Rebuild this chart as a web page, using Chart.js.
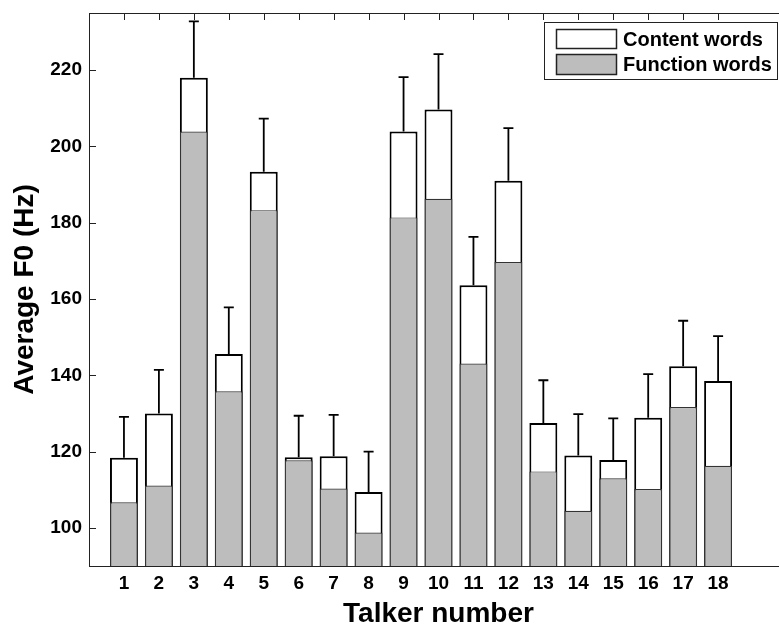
<!DOCTYPE html>
<html>
<head>
<meta charset="utf-8">
<script src="https://cdn.jsdelivr.net/npm/chart.js@4/dist/chart.umd.min.js"></script>
<style>
  html, body { margin: 0; padding: 0; background: #fff; }
  #wrap { width: 779px; height: 625px; overflow: hidden; position: relative; }
  #f0-chart { display: block; }
</style>
</head>
<body>
<div id="wrap"><canvas id="f0-chart" width="800" height="625"></canvas></div>
<script>
var talkers = [1, 2, 3, 4, 5, 6, 7, 8, 9, 10, 11, 12, 13, 14, 15, 16, 17, 18];
var contentWords = [118.4, 130.0, 218.0, 145.6, 193.4, 118.5, 118.8, 109.4, 203.9, 209.7, 163.6, 191.0, 127.5, 119.0, 117.8, 128.9, 142.4, 138.5];
var functionWords = [106.7, 111.1, 203.9, 135.8, 183.3, 117.7, 110.3, 98.8, 181.4, 186.3, 143.1, 169.7, 114.8, 104.5, 113.0, 110.2, 131.7, 116.3];
var contentErr = [10.7, 11.4, 14.8, 12.2, 13.9, 10.9, 10.8, 10.6, 14.3, 14.5, 12.7, 13.8, 11.2, 10.8, 10.9, 11.4, 11.9, 11.8];
var yTicks = [100, 120, 140, 160, 180, 200, 220];
var seriesNames = ["Content words", "Function words"];

!(function () {
  "use strict";
  var GRAY = "#bdbdbd",
    FONT = '"Liberation Sans", Arial, Helvetica, sans-serif';

  function pts(vals) {
    return talkers.map(function (t, i) {
      return { x: t, y: vals[i] };
    });
  }

  function noPad(s) {
    s.paddingTop = 0;
    s.paddingBottom = 0;
    s.paddingLeft = 0;
    s.paddingRight = 0;
  }

  // matlab style box: top line, inward ticks, error bars, legend
  var matlabBox = {
    id: "matlabBox",
    beforeDatasetsDraw: function (chart) {
      var c = chart.ctx,
        a = chart.chartArea,
        xs = chart.scales.x,
        ys = chart.scales.y;
      c.save();
      c.strokeStyle = "#222";
      c.lineWidth = 1;
      c.beginPath();
      c.moveTo(a.left, a.top + 0.5);
      c.lineTo(a.right, a.top + 0.5);
      c.moveTo(a.right - 0.5, a.top);
      c.lineTo(a.right - 0.5, a.bottom);
      talkers.forEach(function (t) {
        var px = Math.round(xs.getPixelForValue(t)) + 0.5;
        c.moveTo(px, a.top);
        c.lineTo(px, a.top + 7);
        c.moveTo(px, a.bottom);
        c.lineTo(px, a.bottom - 7);
      });
      yTicks.forEach(function (v) {
        var py = Math.round(ys.getPixelForValue(v)) + 0.5;
        c.moveTo(a.left, py);
        c.lineTo(a.left + 7, py);
      });
      c.stroke();
      c.restore();
    },
    afterDatasetsDraw: function (chart) {
      var c = chart.ctx,
        xs = chart.scales.x,
        ys = chart.scales.y;
      c.save();
      c.strokeStyle = "#000";
      c.lineWidth = 1.8;
      c.beginPath();
      talkers.forEach(function (t, i) {
        var px = xs.getPixelForValue(t),
          y0 = ys.getPixelForValue(contentWords[i]),
          y1 = ys.getPixelForValue(contentWords[i] + contentErr[i]);
        c.moveTo(px, y0);
        c.lineTo(px, y1);
        c.moveTo(px - 5, y1);
        c.lineTo(px + 5, y1);
      });
      c.stroke();
      c.restore();
    },
    afterDraw: function (chart) {
      var c = chart.ctx;
      c.save();
      c.fillStyle = "#fff";
      c.strokeStyle = "#222";
      c.lineWidth = 1;
      c.fillRect(544, 22, 234, 58);
      c.strokeRect(544.5, 22.5, 233, 57);
      c.lineWidth = 1.5;
      c.fillStyle = "#fff";
      c.fillRect(556, 29, 61, 19);
      c.strokeRect(556.5, 29.5, 60, 19);
      c.fillStyle = GRAY;
      c.fillRect(556, 54, 61, 20);
      c.strokeRect(556.5, 54.5, 60, 20);
      c.fillStyle = "#000";
      c.font = "bold 20px " + FONT;
      c.textBaseline = "middle";
      c.fillText(seriesNames[0], 623, 40);
      c.fillText(seriesNames[1], 623, 65);
      c.restore();
    },
  };

  new Chart(document.getElementById("f0-chart").getContext("2d"), {
    type: "bar",
    data: {
      datasets: [
        {
          label: seriesNames[0],
          data: pts(contentWords),
          backgroundColor: "#fff",
          borderColor: "#000",
          borderWidth: 2,
          order: 2,
        },
        {
          label: seriesNames[1],
          data: pts(functionWords),
          backgroundColor: GRAY,
          borderColor: "#333",
          borderWidth: 1.2,
          order: 1,
        },
      ],
    },
    options: {
      responsive: !1,
      animation: !1,
      layout: { padding: { top: 13, right: 12 } },
      datasets: { bar: { grouped: !1, barPercentage: 0.8, categoryPercentage: 1 } },
      plugins: { legend: { display: !1 }, tooltip: { enabled: !1 } },
      scales: {
        x: {
          type: "linear",
          min: 0,
          max: 20,
          offset: !1,
          afterBuildTicks: function (s) {
            s.ticks = talkers.map(function (t) {
              return { value: t };
            });
          },
          afterFit: function (s) {
            s.height = 59;
            noPad(s);
          },
          grid: { display: !1, drawTicks: !1, offset: !1 },
          border: { display: !0, color: "#222", width: 1 },
          ticks: {
            padding: 6,
            color: "#000",
            maxRotation: 0,
            autoSkip: !1,
            font: { family: FONT, size: 19, weight: "bold" },
          },
          title: {
            display: !0,
            text: "Talker number",
            color: "#000",
            padding: { top: 0, bottom: 0 },
            font: { family: FONT, size: 28, weight: "bold", lineHeight: 0.8 },
          },
        },
        y: {
          min: 90,
          max: 235,
          afterBuildTicks: function (s) {
            s.ticks = yTicks.map(function (v) {
              return { value: v };
            });
          },
          afterFit: function (s) {
            s.width = 89;
            noPad(s);
          },
          grid: { display: !1, drawTicks: !1 },
          border: { display: !0, color: "#222", width: 1 },
          ticks: {
            padding: 7,
            color: "#000",
            font: { family: FONT, size: 19, weight: "bold" },
          },
          title: {
            display: !0,
            text: "Average F0 (Hz)",
            color: "#000",
            padding: { top: 8, bottom: 0 },
            font: { family: FONT, size: 28, weight: "bold" },
          },
        },
      },
    },
    plugins: [matlabBox],
  });
})();
</script>
</body>
</html>
